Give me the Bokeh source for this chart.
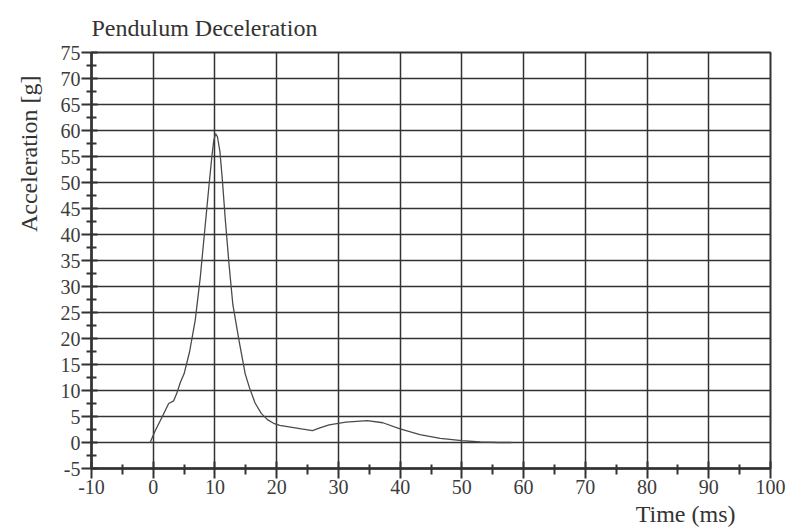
from bokeh.plotting import figure
from bokeh.models import FixedTicker, Range1d, Title
from bokeh.embed import file_html
from bokeh.resources import INLINE

# ---- data ----
time_ms = [-0.5, 0.3, 1.4, 2.5, 3.3, 3.8, 4.4, 5.0, 5.9, 6.8, 7.6, 8.4, 9.0, 9.5, 9.8,
           10.1, 10.4, 10.8, 11.2, 11.7, 12.3, 12.9, 13.9, 14.9, 15.6, 16.5, 17.5,
           18.5, 19.5, 20.5, 22.0, 24.0, 25.8, 27.0, 28.5, 31.2, 34.7, 37.2, 40.0,
           43.2, 46.5, 50.0, 53.0, 56.0, 58.0]
accel_g = [0.0, 2.2, 4.8, 7.5, 8.0, 9.4, 11.6, 13.2, 17.5, 23.5, 31.5, 41.5, 49.0, 55.0, 58.0,
           59.4, 58.8, 56.0, 50.5, 42.5, 34.0, 26.5, 19.6, 13.2, 10.5, 7.6, 5.6,
           4.4, 3.7, 3.3, 3.0, 2.6, 2.3, 2.8, 3.4, 3.9, 4.2, 3.8, 2.6,
           1.5, 0.8, 0.35, 0.1, 0.0, 0.0]

x_major = [-10, 0, 10, 20, 30, 40, 50, 60, 70, 80, 90, 100]
x_minor = [-5, 5, 15, 25, 35, 45, 55, 65, 75, 85, 95]
y_major = [-5, 0, 5, 10, 15, 20, 25, 30, 35, 40, 45, 50, 55, 60, 65, 70, 75]
y_minor = [-2.5, 2.5, 7.5, 12.5, 17.5, 22.5, 27.5, 32.5, 37.5, 42.5, 47.5, 52.5,
           57.5, 62.5, 67.5, 72.5]

title_text = "Pendulum Deceleration"
x_label = "Time (ms)"
y_label = "Acceleration [g]"

FONT = "Liberation Serif"
INK = "#333333"

p = figure(frame_width=679, frame_height=416,
           min_border_left=91, min_border_right=16,
           min_border_top=52, min_border_bottom=63,
           x_range=Range1d(-10, 100), y_range=Range1d(-5, 75),
           output_backend="svg", toolbar_location=None,
           background_fill_color="white", border_fill_color="white")

p.title.text = title_text
p.title.text_font = FONT
p.title.text_font_size = "24px"
p.title.text_font_style = "normal"
p.title.text_color = INK
p.title.align = "left"
p.title.standoff = 23

p.outline_line_color = INK
p.outline_line_width = 2

xt = FixedTicker(ticks=x_major, minor_ticks=x_minor)
yt = FixedTicker(ticks=y_major, minor_ticks=y_minor)
p.xaxis.ticker = xt
p.yaxis.ticker = yt
p.xgrid.ticker = FixedTicker(ticks=x_major)
p.ygrid.ticker = FixedTicker(ticks=y_major)
p.xaxis.major_label_overrides = {v: str(v) for v in x_major}
p.yaxis.major_label_overrides = {v: str(v) for v in y_major}

for g in (p.xgrid, p.ygrid):
    g.grid_line_color = "#333333"
    g.grid_line_width = 1.5

for ax in (p.xaxis, p.yaxis):
    ax.axis_line_color = INK
    ax.axis_line_width = 2.5
    ax.major_tick_line_color = INK
    ax.major_tick_line_width = 2
    ax.minor_tick_line_color = INK
    ax.minor_tick_line_width = 2
    ax.major_label_text_font = FONT
    ax.major_label_text_font_size = "20px"
    ax.major_label_text_color = "#3c3c3c"

p.yaxis.major_tick_out = 10
p.yaxis.major_tick_in = 6
p.yaxis.minor_tick_out = 5
p.yaxis.minor_tick_in = 5
p.yaxis.major_label_standoff = 1

p.xaxis.major_tick_out = 10
p.xaxis.major_tick_in = 7
p.xaxis.minor_tick_out = 6
p.xaxis.minor_tick_in = 4
p.xaxis.major_label_standoff = 1

p.line(time_ms, accel_g, line_color="#4a4a4a", line_width=1.3)

p.add_layout(Title(text=y_label, align="right", offset=23, standoff=28,
                   vertical_align="top",
                   text_font=FONT, text_font_size="24px", text_font_style="normal",
                   text_color=INK), "left")
p.add_layout(Title(text=x_label, align="right", offset=35, standoff=4,
                   text_font=FONT, text_font_size="24px", text_font_style="normal",
                   text_color=INK), "below")

open("out.html", "w").write(file_html(p, INLINE))
